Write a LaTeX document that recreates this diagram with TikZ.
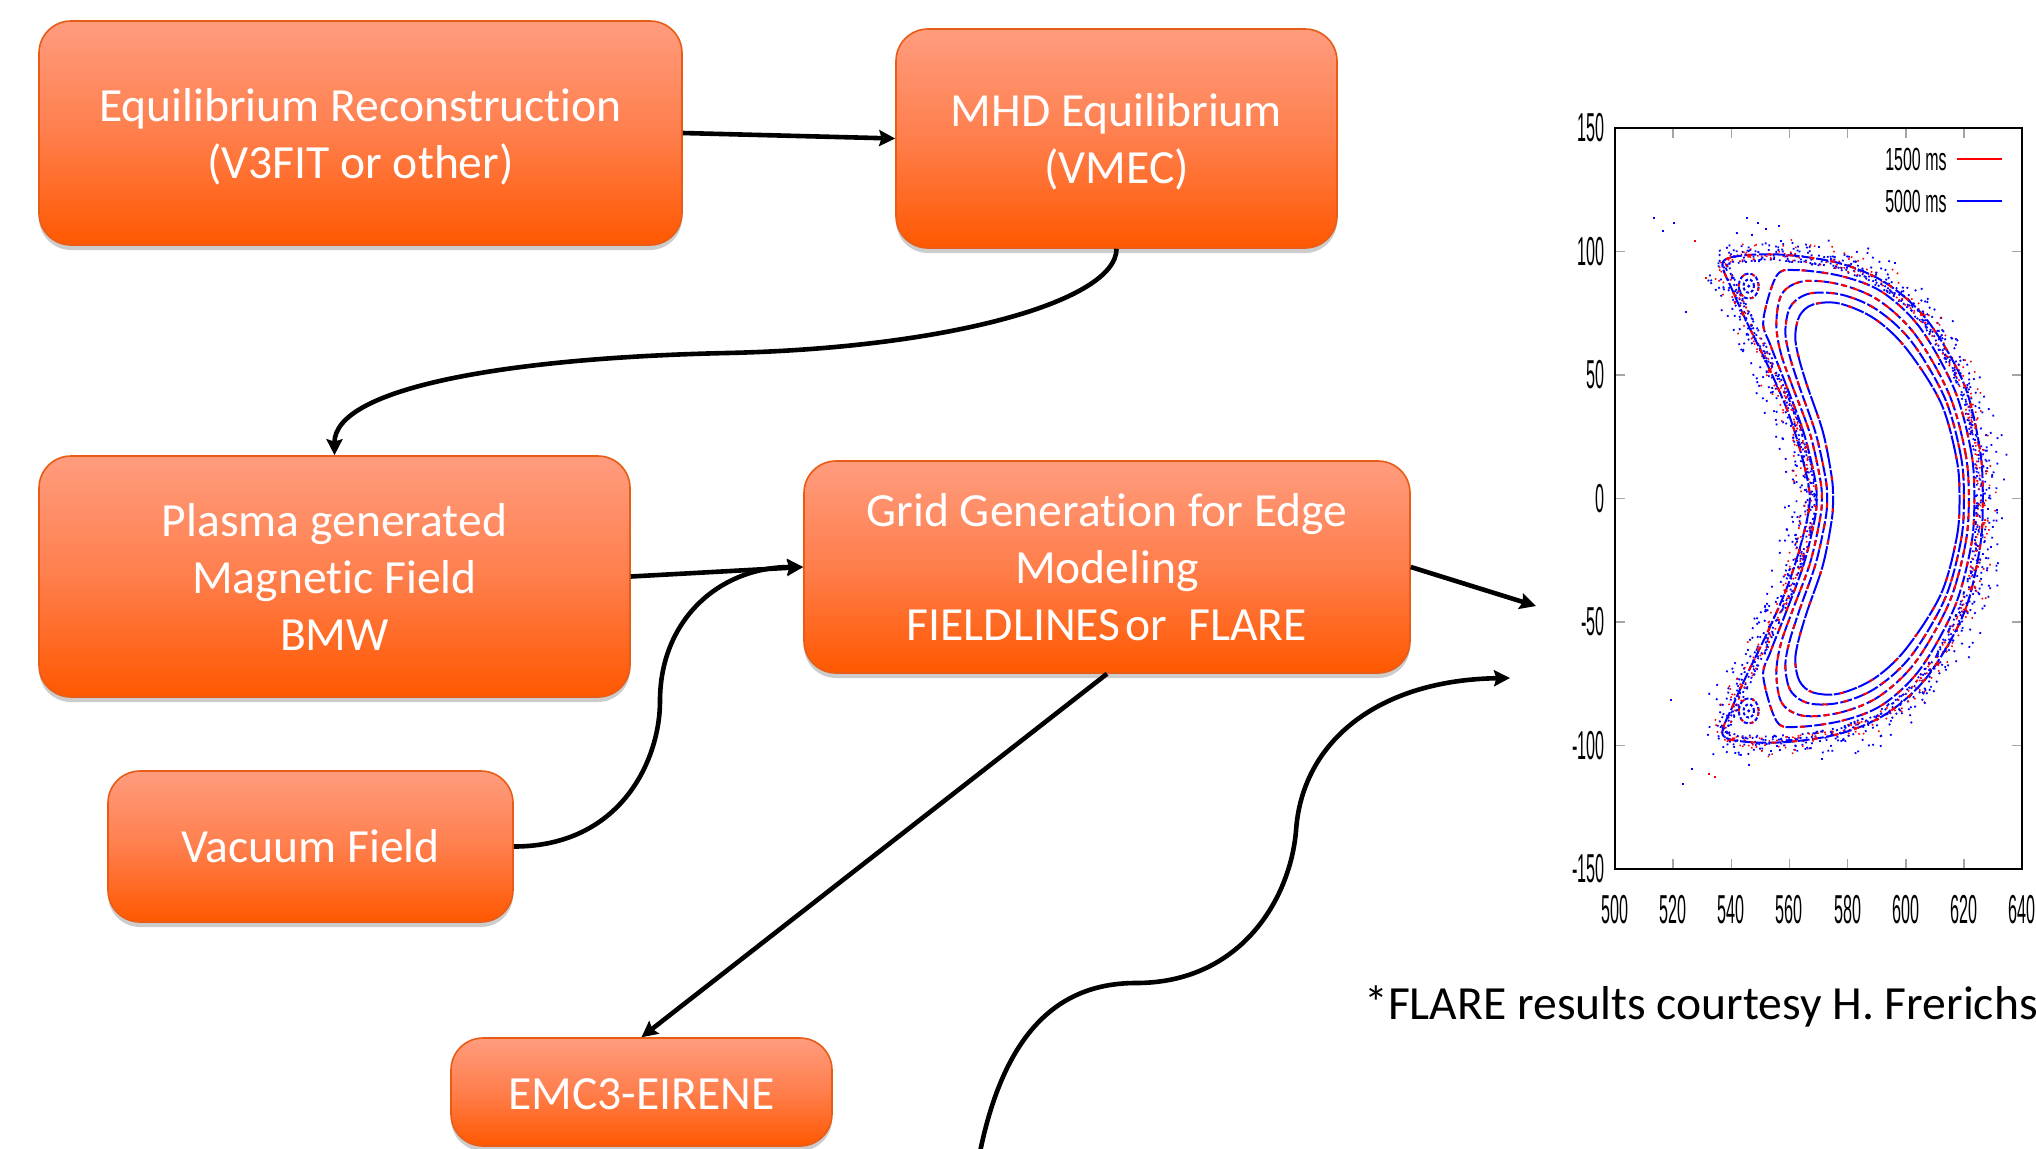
\documentclass[tikz,border=0pt]{standalone}
\usepackage{fontspec}
\setmainfont{Carlito}[Ligatures={NoCommon}]
\newfontfamily\plotfont{Liberation Sans}
\usetikzlibrary{arrows.meta,shadows,decorations.markings}
\definecolor{boxtop}{RGB}{255,156,126}
\definecolor{boxmid}{RGB}{255,126,76}
\definecolor{boxbot}{RGB}{255,88,0}
\definecolor{boxedge}{RGB}{232,92,22}
\definecolor{tickgray}{RGB}{165,165,165}
\newcommand\bxfont{\fontsize{23.8pt}{28.5pt}\selectfont}
\begin{document}
\begin{tikzpicture}[x=0.5pt,y=-0.5pt,
  box/.style={draw=boxedge, line width=0.8pt, rounded corners=16pt,
    shading=axis, top color=boxtop, bottom color=boxbot, middle color=boxmid,
    text=white, align=center, inner sep=0pt, font=\bxfont,
    drop shadow={shadow xshift=0pt, shadow yshift=-2.5pt, fill=black, opacity=0.2}},
  flow/.style={line width=2.3pt, -{Stealth[length=8pt,width=8pt,inset=1.2pt]}},
  tick/.style={tickgray, line width=0.8pt},
  lab/.style={inner sep=0pt, font={\plotfont\fontsize{20.2pt}{20.2pt}\selectfont}},
  leg/.style={inner sep=0pt, font={\plotfont\fontsize{16pt}{16pt}\selectfont}},
  curveb/.style={blue, line width=1pt, dash pattern=on 6pt off 1.2pt},
  curver/.style={draw=red, line width=1pt, dash pattern=on 2.5pt off 8pt},
  scatter/.style={decoration={markings, mark=between positions 0 and 1 step 0.5pt with {
     \pgfmathsetmacro\ua{rand*0.6}\pgfmathsetmacro\ub{3-17*rnd*rnd}
     \fill[blue] (\ua pt,\ub pt) rectangle +(0.9pt,0.9pt);
     \pgfmathparse{rnd<0.45}
     \ifnum\pgfmathresult=1
       \pgfmathsetmacro\uc{rand*0.6}\pgfmathsetmacro\ud{2.5-12*rnd*rnd}
       \fill[red] (\uc pt,\ud pt) rectangle +(0.8pt,0.8pt);
     \fi
  }}}
]
\clip (0,0) rectangle (2036,1148);
\fill[white] (0,0) rectangle (2036,1148);

% ---------- boxes ----------
\node[box, minimum width=321.5pt, minimum height=112pt] (eqr) at (360.5,133)
  {\rule{0pt}{20pt}Equilibrium Reconstruction\\(V3FIT or other)};
\node[box, minimum width=220.5pt, minimum height=109.5pt] (mhd) at (1116.5,138.5)
  {\rule{0pt}{20pt}MHD Equilibrium\\(VMEC)};
\node[box, minimum width=295.5pt, minimum height=120.5pt] (plas) at (334.5,576.5)
  {Plasma generated\\Magnetic Field\\BMW};
\node[box, minimum width=303pt, minimum height=106pt] (grid) at (1107,567)
  {Grid Generation for Edge\\Modeling\\FIELDLINES\kern0.1em or\kern0.45em FLARE};
\node[box, minimum width=202.5pt, minimum height=75.5pt] (vac) at (310.5,846.5)
  {Vacuum Field};
\node[box, minimum width=190.5pt, minimum height=54pt] (emc) at (641.5,1092)
  {\rule{0pt}{18pt}EMC3-EIRENE};

\node[anchor=west, inner sep=0pt, font=\bxfont] (note) at (1364,1006)
  {*FLARE results courtesy H. Frerichs};

% ---------- connectors ----------
\coordinate (m1) at (727,353);
\coordinate (m2) at (660,701);
\coordinate (plotin) at (1536,606);
\coordinate (fs) at (980,1152);
\coordinate (m3) at (1136,983);
\coordinate (m4) at (1296,831);
\coordinate (fe) at (1510,678);

\draw[flow] (eqr.east) -- (mhd.west);
\draw[flow] (mhd.south) .. controls +(0,52) and +(223,-5) .. (m1)
  .. controls +(-227,5) and +(0,-66) .. (plas.north);
\draw[flow] (plas.east) -- (grid.west);
\draw[flow] (vac.east) .. controls +(107,0) and +(0,59) .. (m2)
  .. controls +(0,-81) and +(-84,0) .. (grid.west);
\draw[flow] (grid.east) -- (plotin);
\draw[flow] (grid.south) -- (emc.north);
\draw[flow] (fs) .. controls (1005,1030) and (1060,983) .. (m3)
  .. controls (1240,983) and (1290,900) .. (m4)
  .. controls (1302,740) and (1380,680) .. (fe);

% ---------- Poincare plot ----------
\pgfmathsetseed{7}
\begin{scope}[shift={(1615,498.5)}, x={(1.4536pt,0pt)}, y={(0pt,1.2350pt)}, shift={(-500,0)}]
  % outer separatrix with scatter
  \draw[curveb, preaction={scatter, decorate}, postaction={curver}] plot[smooth cycle, tension=0.55] coordinates {
    (626.5,0) (625.5,20) (620,46.5) (607.5,72) (593.5,87) (578,95) (560,98.5) (545,98.5) (537,95.5)
    (540.5,84) (545.5,71) (552.5,54) (559.5,35) (564.5,16) (567,0) (564.5,-16) (559.5,-35) (552.5,-54)
    (545.5,-71) (540.5,-84) (537,-95.5) (545,-98.5) (560,-98.5) (578,-95) (593.5,-87) (607.5,-72)
    (620,-46.5) (625.5,-20)};
  \draw[curveb, postaction={curver, dash phase=3pt}] plot[smooth cycle, tension=0.55] coordinates {
    (623.6,0) (622.5,19) (616.8,44) (605,69) (592,83.5) (578,90) (562,92.5) (555.5,90) (551,72)
    (553.5,62) (558.5,47) (564.8,27) (568.6,9) (569.4,0) (568.6,-9) (564.8,-27) (558.5,-47) (553.5,-62)
    (551,-72) (555.5,-90) (562,-92.5) (578,-90) (592,-83.5) (605,-69) (616.8,-44) (622.5,-19)};
  \draw[curveb, dash pattern=on 3pt off 1.5pt, postaction={curver, dash pattern=on 3pt off 3pt}] plot[smooth cycle, tension=0.55] coordinates {
    (621.7,0) (620.6,18) (615,42) (603.5,66) (591,80) (578,86.5) (565,88) (557.5,83) (555.5,71)
    (557,59) (561,45.5) (567,26.5) (570.4,9) (571.2,0) (570.4,-9) (567,-26.5) (561,-45.5) (557,-59)
    (555.5,-71) (557.5,-83) (565,-88) (578,-86.5) (591,-80) (603.5,-66) (615,-42) (620.6,-18)};
  \draw[curveb, postaction={curver, dash phase=6pt}] plot[smooth cycle, tension=0.55] coordinates {
    (620,0) (619,17) (613.5,40.5) (602,63.5) (590,76.5) (578,82.5) (567,83) (560.5,78) (558.6,68)
    (560,58) (563.5,45) (569,26.5) (572.3,9) (573,0) (572.3,-9) (569,-26.5) (563.5,-45) (560,-58)
    (558.6,-68) (560.5,-78) (567,-83) (578,-82.5) (590,-76.5) (602,-63.5) (613.5,-40.5) (619,-17)};
  \draw[curveb, dash pattern=on 12pt off 0.8pt, postaction={curver, dash pattern=on 2pt off 14pt}] plot[smooth cycle, tension=0.55] coordinates {
    (618.5,0) (617.5,16) (612,39) (600,61) (589,73) (577,79) (568,78.5) (563.5,74) (562,66)
    (563,58) (566,46) (571.5,27) (574.5,9) (575,0) (574.5,-9) (571.5,-27) (566,-46) (563,-58)
    (562,-66) (563.5,-74) (568,-78.5) (577,-79) (589,-73) (600,-61) (612,-39) (617.5,-16)};
  % islands
  \foreach \s in {1,-1}{
    \draw[blue, line width=1pt, dash pattern=on 2pt off 1pt] (546,86*\s) ellipse [x radius=5pt, y radius=6.3pt];
    \draw[red, line width=0.9pt, dash pattern=on 1.5pt off 4pt] (546,86*\s) ellipse [x radius=5pt, y radius=6.3pt];
    \draw[blue, line width=1pt, dash pattern=on 1.5pt off 1pt] (546,86*\s) ellipse [x radius=2.6pt, y radius=3.3pt];
    \fill[blue] (546,86*\s) circle [radius=0.9pt];
  }
  % outliers
  \foreach \px/\py/\c in {513/113/blue,516/108/blue,520/111/blue,527/104/red,524/75/blue,531/89/red,
     545/113/blue,549/111/blue,556/110/blue,596/95/blue,611/54/blue,631/-5/blue,629/-20/blue,
     523/-116/blue,526/-110/blue,519/-82/blue,532/-112/red,571/-106/blue,578/-98/blue,534/-113/red}
    \fill[\c] (\px,\py) rectangle +(1pt,1pt);
  % frame and ticks
  \foreach \t in {520,540,...,620}{
    \draw[tick] (\t,-150) -- ++(0,4);
    \draw[tick] (\t,150) -- ++(0,-4);
  }
  \foreach \t in {-100,-50,0,50,100}{
    \draw[tick] (500,\t) -- ++(3.4,0);
    \draw[tick] (640,\t) -- ++(-3.4,0);
  }
  \draw[black, line width=1pt] (500,-150) rectangle (640,150);
  \foreach \t in {500,520,...,640}
    \node[lab] (xl\t) at (\t,-150) [yshift=-20.5pt] {\scalebox{0.4}[1]{\t}};
  \foreach \t in {-150,-100,-50,0,50,100,150}
    \node[lab, anchor=east] (yl\t) at (500,\t) [xshift=-5pt] {\scalebox{0.4}[1]{\t}};
  % legend
  \node[leg, anchor=east] (lg1) at (614.2,137.4) {\scalebox{0.5}[1]{1500 ms}};
  \node[leg, anchor=east] (lg2) at (614.2,120.4) {\scalebox{0.5}[1]{5000 ms}};
  \draw[red, line width=0.8pt] (617.6,137.4) -- (633.1,137.4);
  \draw[blue, line width=0.8pt] (617.6,120.4) -- (633.1,120.4);
\end{scope}
\end{tikzpicture}
\end{document}
